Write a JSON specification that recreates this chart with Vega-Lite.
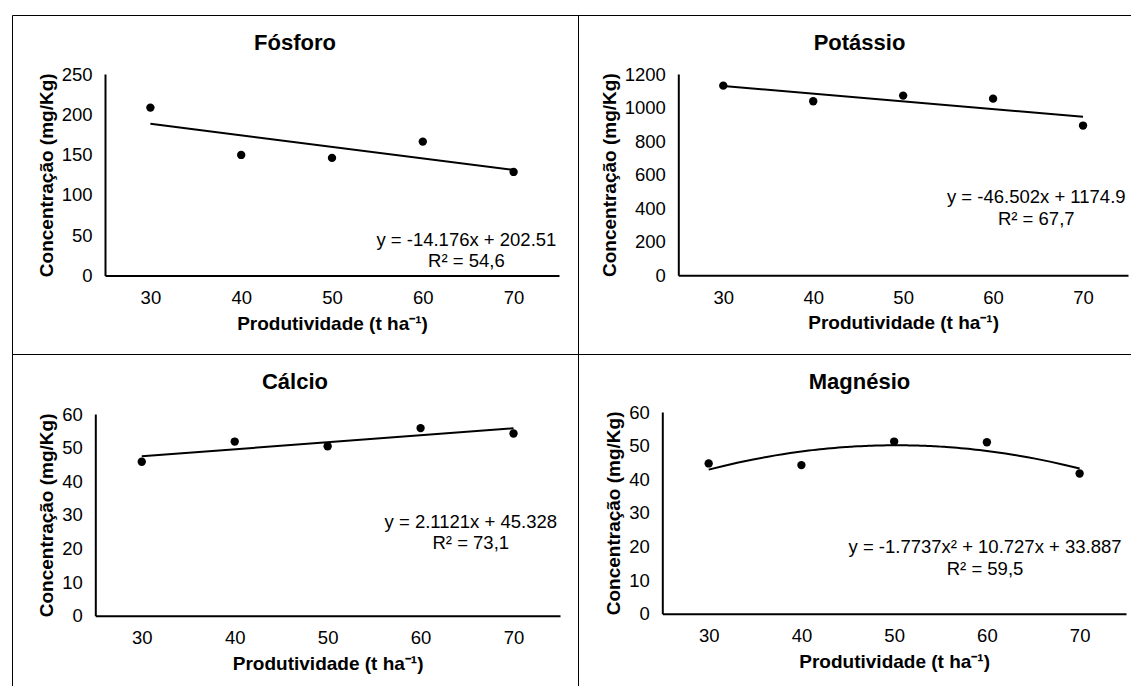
{
  "$schema": "https://vega.github.io/schema/vega-lite/v6.json",
  "padding": {"left": 11, "top": 14, "right": 0, "bottom": 0},
  "background": "#ffffff",
  "datasets": {
    "pts": [
      {"el": "Fósforo", "x": 30, "y": 208.3},
      {"el": "Fósforo", "x": 40, "y": 149.6},
      {"el": "Fósforo", "x": 50, "y": 145.9},
      {"el": "Fósforo", "x": 60, "y": 166.1},
      {"el": "Fósforo", "x": 70, "y": 128.5},
      {"el": "Potássio", "x": 30, "y": 1130.6},
      {"el": "Potássio", "x": 40, "y": 1037.4},
      {"el": "Potássio", "x": 50, "y": 1071.1},
      {"el": "Potássio", "x": 60, "y": 1053.2},
      {"el": "Potássio", "x": 70, "y": 892.6},
      {"el": "Cálcio", "x": 30, "y": 45.8},
      {"el": "Cálcio", "x": 40, "y": 51.8},
      {"el": "Cálcio", "x": 50, "y": 50.4},
      {"el": "Cálcio", "x": 60, "y": 55.8},
      {"el": "Cálcio", "x": 70, "y": 54.2},
      {"el": "Magnésio", "x": 30, "y": 44.7},
      {"el": "Magnésio", "x": 40, "y": 44.2},
      {"el": "Magnésio", "x": 50, "y": 51.2},
      {"el": "Magnésio", "x": 60, "y": 51.0},
      {"el": "Magnésio", "x": 70, "y": 41.7}
    ],
    "eqs": [
      {"el": "Fósforo", "x": 64.8, "y": 44.5, "label": "y = -14.176x + 202.51\nR² = 54,6"},
      {"el": "Potássio", "x": 64.8, "y": 466, "label": "y = -46.502x + 1174.9\nR² = 67,7"},
      {"el": "Cálcio", "x": 65.4, "y": 28, "label": "y = 2.1121x + 45.328\nR² = 73,1"},
      {"el": "Magnésio", "x": 59.8, "y": 19.8, "label": "y = -1.7737x² + 10.727x + 33.887\nR² = 59,5"}
    ]
  },
  "concat": [
    {
      "width": 566, "height": 339,
      "title": {"text": "Fósforo"},
      "layer": [
        {
          "data": {"name": "pts"},
          "transform": [{"filter": "datum.el === 'Fósforo'"}],
          "mark": {"type": "point", "filled": true, "color": "#000", "opacity": 1, "size": 70},
          "encoding": {
            "x": {"field": "x", "type": "quantitative", "scale": {"domain": [25, 75], "range": [93, 547], "nice": false, "zero": false},
                  "axis": {"values": [30, 40, 50, 60, 70], "offset": -78.5, "title": "Produtividade (t ha⁻¹)"}},
            "y": {"field": "y", "type": "quantitative", "scale": {"domain": [0, 250], "range": [260.5, 59], "nice": false},
                  "axis": {"values": [0, 50, 100, 150, 200, 250], "format": "d", "offset": -93, "title": "Concentração (mg/Kg)"}}
          }
        },
        {
          "data": {"name": "pts"},
          "transform": [{"filter": "datum.el === 'Fósforo'"}, {"regression": "y", "on": "x", "method": "linear"}],
          "mark": {"type": "line", "color": "#000", "strokeWidth": 2},
          "encoding": {"x": {"field": "x", "type": "quantitative"}, "y": {"field": "y", "type": "quantitative"}}
        },
        {
          "data": {"name": "eqs"},
          "transform": [{"filter": "datum.el === 'Fósforo'"}],
          "mark": {"type": "text", "align": "center", "baseline": "middle", "lineBreak": "\n", "lineHeight": 21.5, "fontSize": 18.5, "font": "Liberation Sans", "color": "#000"},
          "encoding": {"x": {"field": "x", "type": "quantitative"}, "y": {"field": "y", "type": "quantitative"}, "text": {"field": "label"}}
        }
      ]
    },
    {
      "width": 553, "height": 339,
      "title": {"text": "Potássio", "dx": 5},
      "layer": [
        {
          "data": {"name": "pts"},
          "transform": [{"filter": "datum.el === 'Potássio'"}],
          "mark": {"type": "point", "filled": true, "color": "#000", "opacity": 1, "size": 70},
          "encoding": {
            "x": {"field": "x", "type": "quantitative", "scale": {"domain": [25, 75], "range": [100.3, 550], "nice": false, "zero": false},
                  "axis": {"values": [30, 40, 50, 60, 70], "offset": -78.7, "title": "Produtividade (t ha⁻¹)"}},
            "y": {"field": "y", "type": "quantitative", "scale": {"domain": [0, 1200], "range": [260.3, 59], "nice": false},
                  "axis": {"values": [0, 200, 400, 600, 800, 1000, 1200], "format": "d", "offset": -100.3, "title": "Concentração (mg/Kg)"}}
          }
        },
        {
          "data": {"name": "pts"},
          "transform": [{"filter": "datum.el === 'Potássio'"}, {"regression": "y", "on": "x", "method": "linear"}],
          "mark": {"type": "line", "color": "#000", "strokeWidth": 2},
          "encoding": {"x": {"field": "x", "type": "quantitative"}, "y": {"field": "y", "type": "quantitative"}}
        },
        {
          "data": {"name": "eqs"},
          "transform": [{"filter": "datum.el === 'Potássio'"}],
          "mark": {"type": "text", "align": "center", "baseline": "middle", "lineBreak": "\n", "lineHeight": 21.5, "fontSize": 18.5, "font": "Liberation Sans", "color": "#000"},
          "encoding": {"x": {"field": "x", "type": "quantitative"}, "y": {"field": "y", "type": "quantitative"}, "text": {"field": "label"}}
        }
      ]
    },
    {
      "width": 566, "height": 333,
      "title": {"text": "Cálcio"},
      "layer": [
        {
          "data": {"name": "pts"},
          "transform": [{"filter": "datum.el === 'Cálcio'"}],
          "mark": {"type": "point", "filled": true, "color": "#000", "opacity": 1, "size": 70},
          "encoding": {
            "x": {"field": "x", "type": "quantitative", "scale": {"domain": [25, 75], "range": [83.3, 548], "nice": false, "zero": false},
                  "axis": {"values": [30, 40, 50, 60, 70], "offset": -71.3, "title": "Produtividade (t ha⁻¹)"}},
            "y": {"field": "y", "type": "quantitative", "scale": {"domain": [0, 60], "range": [261.7, 60], "nice": false},
                  "axis": {"values": [0, 10, 20, 30, 40, 50, 60], "format": "d", "offset": -83.3, "title": "Concentração (mg/Kg)"}}
          }
        },
        {
          "data": {"name": "pts"},
          "transform": [{"filter": "datum.el === 'Cálcio'"}, {"regression": "y", "on": "x", "method": "linear"}],
          "mark": {"type": "line", "color": "#000", "strokeWidth": 2},
          "encoding": {"x": {"field": "x", "type": "quantitative"}, "y": {"field": "y", "type": "quantitative"}}
        },
        {
          "data": {"name": "eqs"},
          "transform": [{"filter": "datum.el === 'Cálcio'"}],
          "mark": {"type": "text", "align": "center", "baseline": "middle", "lineBreak": "\n", "lineHeight": 21.5, "fontSize": 18.5, "font": "Liberation Sans", "color": "#000"},
          "encoding": {"x": {"field": "x", "type": "quantitative"}, "y": {"field": "y", "type": "quantitative"}, "text": {"field": "label"}}
        }
      ]
    },
    {
      "width": 553, "height": 333,
      "title": {"text": "Magnésio", "dx": 5},
      "layer": [
        {
          "data": {"name": "pts"},
          "transform": [{"filter": "datum.el === 'Magnésio'"}],
          "mark": {"type": "point", "filled": true, "color": "#000", "opacity": 1, "size": 70},
          "encoding": {
            "x": {"field": "x", "type": "quantitative", "scale": {"domain": [25, 75], "range": [84.3, 548], "nice": false, "zero": false},
                  "axis": {"values": [30, 40, 50, 60, 70], "offset": -73.3, "title": "Produtividade (t ha⁻¹)"}},
            "y": {"field": "y", "type": "quantitative", "scale": {"domain": [0, 60], "range": [259.7, 58], "nice": false},
                  "axis": {"values": [0, 10, 20, 30, 40, 50, 60], "format": "d", "offset": -84.3, "title": "Concentração (mg/Kg)"}}
          }
        },
        {
          "data": {"name": "pts"},
          "transform": [{"filter": "datum.el === 'Magnésio'"}, {"regression": "y", "on": "x", "method": "poly", "order": 2}],
          "mark": {"type": "line", "color": "#000", "strokeWidth": 2},
          "encoding": {"x": {"field": "x", "type": "quantitative"}, "y": {"field": "y", "type": "quantitative"}}
        },
        {
          "data": {"name": "eqs"},
          "transform": [{"filter": "datum.el === 'Magnésio'"}],
          "mark": {"type": "text", "align": "center", "baseline": "middle", "lineBreak": "\n", "lineHeight": 21.5, "fontSize": 18.5, "font": "Liberation Sans", "color": "#000"},
          "encoding": {"x": {"field": "x", "type": "quantitative"}, "y": {"field": "y", "type": "quantitative"}, "text": {"field": "label"}}
        }
      ]
    }
  ],
  "columns": 2,
  "spacing": 0,
  "bounds": "flush",
  "config": {
    "font": "Liberation Sans",
    "view": {"stroke": "#000", "strokeWidth": 1},
    "axis": {
      "domainColor": "#000", "domainWidth": 2, "ticks": false, "tickSize": 0, "grid": false,
      "labelFont": "Liberation Sans", "labelFontSize": 18.5, "labelColor": "#000", "labelPadding": 13,
      "titleFont": "Liberation Sans", "titleFontSize": 19, "titleFontWeight": "bold", "titleColor": "#000"
    },
    "axisX": {"titlePadding": 7},
    "axisY": {"titlePadding": 5},
    "title": {"font": "Liberation Sans", "fontSize": 22, "fontWeight": "bold", "color": "#000", "baseline": "middle", "offset": -40, "anchor": "middle"}
  }
}
